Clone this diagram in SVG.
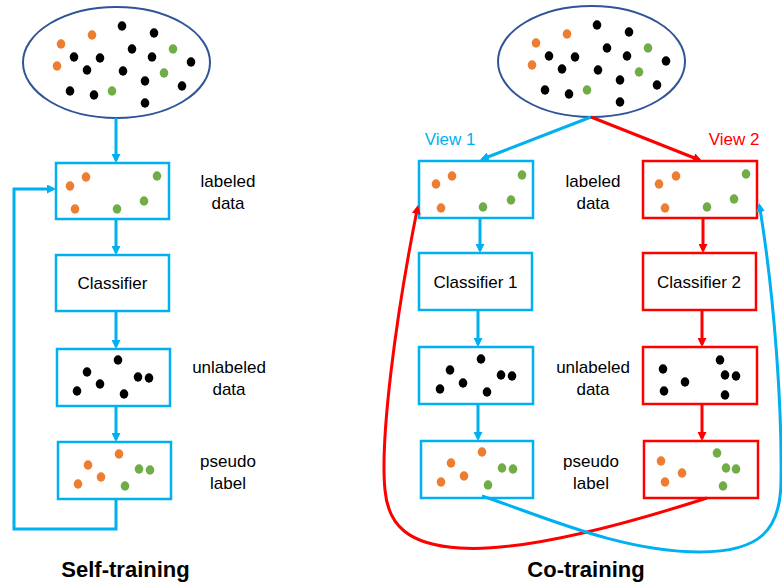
<svg xmlns="http://www.w3.org/2000/svg" width="782" height="583" viewBox="0 0 782 583">
<style>
.bg{fill:#fff}
.ell{fill:#fff;stroke:#2F5597;stroke-width:2}
.bb{fill:#fff;stroke:#00B0F0;stroke-width:2.5}
.rb{fill:#fff;stroke:#FF0000;stroke-width:2.5}
.o{fill:#ED7D31}
.g{fill:#70AD47}
.k{fill:#000}
.t{font-family:"Liberation Sans",Arial,sans-serif;font-size:17px;fill:#000;text-anchor:middle}
.h{font-family:"Liberation Sans",Arial,sans-serif;font-size:22px;font-weight:bold;fill:#000;text-anchor:middle}
.cb{fill:none;stroke:#00B0F0;stroke-width:3}
.cr{fill:none;stroke:#FF0000;stroke-width:3}
</style>
<defs>
<marker id="ab" viewBox="0 0 10 10" refX="7" refY="5" markerWidth="9" markerHeight="9" markerUnits="userSpaceOnUse" orient="auto"><path d="M0,0 L10,5 L0,10 z" fill="#00B0F0"/></marker>
<marker id="ar" viewBox="0 0 10 10" refX="7" refY="5" markerWidth="9" markerHeight="9" markerUnits="userSpaceOnUse" orient="auto"><path d="M0,0 L10,5 L0,10 z" fill="#FF0000"/></marker>
<g id="pool">
<ellipse class="ell" cx="116.5" cy="62.5" rx="93.5" ry="55.5"/>
<ellipse class="o" cx="61" cy="44" rx="4.3" ry="4.7"/>
<ellipse class="o" cx="92" cy="35" rx="4.3" ry="4.7"/>
<ellipse class="o" cx="57" cy="66" rx="4.3" ry="4.7"/>
<ellipse class="k" cx="122" cy="26" rx="4.3" ry="4.7"/>
<ellipse class="k" cx="154" cy="33" rx="4.3" ry="4.7"/>
<ellipse class="k" cx="74" cy="57" rx="4.3" ry="4.7"/>
<ellipse class="k" cx="100" cy="58" rx="4.3" ry="4.7"/>
<ellipse class="k" cx="132" cy="49" rx="4.3" ry="4.7"/>
<ellipse class="k" cx="152" cy="57" rx="4.3" ry="4.7"/>
<ellipse class="k" cx="191" cy="62" rx="4.3" ry="4.7"/>
<ellipse class="k" cx="87" cy="70" rx="4.3" ry="4.7"/>
<ellipse class="k" cx="123" cy="71" rx="4.3" ry="4.7"/>
<ellipse class="k" cx="145" cy="81" rx="4.3" ry="4.7"/>
<ellipse class="k" cx="182" cy="86" rx="4.3" ry="4.7"/>
<ellipse class="k" cx="70" cy="91" rx="4.3" ry="4.7"/>
<ellipse class="k" cx="94" cy="95" rx="4.3" ry="4.7"/>
<ellipse class="k" cx="145" cy="103" rx="4.3" ry="4.7"/>
<ellipse class="g" cx="173" cy="49" rx="4.3" ry="4.7"/>
<ellipse class="g" cx="164" cy="73" rx="4.3" ry="4.7"/>
<ellipse class="g" cx="112" cy="91" rx="4.3" ry="4.7"/>
</g>
</defs>
<rect class="bg" x="0" y="0" width="782" height="583"/>

<!-- Self-training -->
<g id="st-pool"><use href="#pool"/></g>
<g id="st-labeled">
<rect class="bb" x="56" y="163" width="113" height="56"/>
<ellipse class="o" cx="70" cy="186" rx="4.3" ry="4.7"/>
<ellipse class="o" cx="86" cy="177" rx="4.3" ry="4.7"/>
<ellipse class="o" cx="75" cy="209" rx="4.3" ry="4.7"/>
<ellipse class="g" cx="157" cy="176" rx="4.3" ry="4.7"/>
<ellipse class="g" cx="117" cy="209" rx="4.3" ry="4.7"/>
<ellipse class="g" cx="144" cy="201" rx="4.3" ry="4.7"/>
</g>
<g id="st-labeled-text"><text class="t" x="228" y="187">labeled</text><text class="t" x="228" y="209">data</text></g>
<g id="st-classifier">
<rect class="bb" x="56" y="255" width="113" height="56"/>
<text class="t" x="112.5" y="289">Classifier</text>
</g>
<g id="st-unlabeled">
<rect class="bb" x="57" y="349" width="113" height="57"/>
<ellipse class="k" cx="118" cy="360" rx="4.3" ry="4.7"/>
<ellipse class="k" cx="87" cy="372" rx="4.3" ry="4.7"/>
<ellipse class="k" cx="138" cy="377" rx="4.3" ry="4.7"/>
<ellipse class="k" cx="149" cy="378" rx="4.3" ry="4.7"/>
<ellipse class="k" cx="100" cy="384" rx="4.3" ry="4.7"/>
<ellipse class="k" cx="77" cy="391" rx="4.3" ry="4.7"/>
<ellipse class="k" cx="124" cy="394" rx="4.3" ry="4.7"/>
</g>
<g id="st-unlabeled-text"><text class="t" x="229" y="373">unlabeled</text><text class="t" x="229" y="395">data</text></g>
<g id="st-pseudo">
<rect class="bb" x="58" y="442" width="113" height="57"/>
<ellipse class="o" cx="119" cy="454" rx="4.3" ry="4.7"/>
<ellipse class="o" cx="88" cy="465" rx="4.3" ry="4.7"/>
<ellipse class="o" cx="101" cy="477" rx="4.3" ry="4.7"/>
<ellipse class="o" cx="78" cy="484" rx="4.3" ry="4.7"/>
<ellipse class="g" cx="139" cy="469" rx="4.3" ry="4.7"/>
<ellipse class="g" cx="150" cy="470" rx="4.3" ry="4.7"/>
<ellipse class="g" cx="125" cy="486" rx="4.3" ry="4.7"/>
</g>
<g id="st-pseudo-text"><text class="t" x="228" y="467">pseudo</text><text class="t" x="228" y="489">label</text></g>
<g id="st-title"><text class="h" x="125.5" y="577">Self-training</text></g>

<!-- Co-training -->
<g id="ct-pool" transform="translate(475,-1)"><use href="#pool"/></g>
<g id="ct-view1"><text class="t" x="450" y="145" style="fill:#00B0F0">View 1</text></g>
<g id="ct-view2"><text class="t" x="734" y="145" style="fill:#FF0000">View 2</text></g>
<g id="ct-labeled1">
<rect class="bb" x="419" y="161" width="114" height="57"/>
<ellipse class="o" cx="436" cy="184" rx="4.3" ry="4.7"/>
<ellipse class="o" cx="452" cy="176" rx="4.3" ry="4.7"/>
<ellipse class="o" cx="441" cy="208" rx="4.3" ry="4.7"/>
<ellipse class="g" cx="522" cy="175" rx="4.3" ry="4.7"/>
<ellipse class="g" cx="483" cy="207" rx="4.3" ry="4.7"/>
<ellipse class="g" cx="511" cy="200" rx="4.3" ry="4.7"/>
</g>
<g id="ct-labeled2">
<rect class="rb" x="643" y="161" width="114" height="57"/>
<ellipse class="o" cx="659" cy="184" rx="4.3" ry="4.7"/>
<ellipse class="o" cx="676" cy="176" rx="4.3" ry="4.7"/>
<ellipse class="o" cx="665" cy="208" rx="4.3" ry="4.7"/>
<ellipse class="g" cx="746" cy="174" rx="4.3" ry="4.7"/>
<ellipse class="g" cx="707" cy="207" rx="4.3" ry="4.7"/>
<ellipse class="g" cx="734" cy="199" rx="4.3" ry="4.7"/>
</g>
<g id="ct-labeled-text"><text class="t" x="593" y="187">labeled</text><text class="t" x="593" y="209">data</text></g>
<g id="ct-classifier1">
<rect class="bb" x="419" y="253" width="113" height="57"/>
<text class="t" x="475.5" y="288">Classifier 1</text>
</g>
<g id="ct-classifier2">
<rect class="rb" x="643" y="253" width="113" height="57"/>
<text class="t" x="699" y="288">Classifier 2</text>
</g>
<g id="ct-unlabeled1">
<rect class="bb" x="419" y="347" width="114" height="57"/>
<ellipse class="k" cx="481" cy="359" rx="4.3" ry="4.7"/>
<ellipse class="k" cx="450" cy="370" rx="4.3" ry="4.7"/>
<ellipse class="k" cx="501" cy="375" rx="4.3" ry="4.7"/>
<ellipse class="k" cx="512" cy="376" rx="4.3" ry="4.7"/>
<ellipse class="k" cx="463" cy="383" rx="4.3" ry="4.7"/>
<ellipse class="k" cx="440" cy="389" rx="4.3" ry="4.7"/>
<ellipse class="k" cx="487" cy="392" rx="4.3" ry="4.7"/>
</g>
<g id="ct-unlabeled2">
<rect class="rb" x="643" y="347" width="114" height="57"/>
<ellipse class="k" cx="720" cy="360" rx="4.3" ry="4.7"/>
<ellipse class="k" cx="663" cy="369" rx="4.3" ry="4.7"/>
<ellipse class="k" cx="725" cy="375" rx="4.3" ry="4.7"/>
<ellipse class="k" cx="736" cy="376" rx="4.3" ry="4.7"/>
<ellipse class="k" cx="685" cy="382" rx="4.3" ry="4.7"/>
<ellipse class="k" cx="664" cy="391" rx="4.3" ry="4.7"/>
<ellipse class="k" cx="725" cy="395" rx="4.3" ry="4.7"/>
</g>
<g id="ct-unlabeled-text"><text class="t" x="593" y="373">unlabeled</text><text class="t" x="593" y="395">data</text></g>
<g id="ct-pseudo1">
<rect class="bb" x="421" y="441" width="112" height="57"/>
<ellipse class="o" cx="482" cy="452" rx="4.3" ry="4.7"/>
<ellipse class="o" cx="451" cy="463" rx="4.3" ry="4.7"/>
<ellipse class="o" cx="464" cy="476" rx="4.3" ry="4.7"/>
<ellipse class="o" cx="441" cy="482" rx="4.3" ry="4.7"/>
<ellipse class="g" cx="502" cy="468" rx="4.3" ry="4.7"/>
<ellipse class="g" cx="513" cy="469" rx="4.3" ry="4.7"/>
<ellipse class="g" cx="488" cy="485" rx="4.3" ry="4.7"/>
</g>
<g id="ct-pseudo2">
<rect class="rb" x="644" y="441" width="114" height="57"/>
<ellipse class="o" cx="661" cy="461" rx="4.3" ry="4.7"/>
<ellipse class="o" cx="682" cy="473" rx="4.3" ry="4.7"/>
<ellipse class="o" cx="665" cy="482" rx="4.3" ry="4.7"/>
<ellipse class="g" cx="717" cy="453" rx="4.3" ry="4.7"/>
<ellipse class="g" cx="726" cy="468" rx="4.3" ry="4.7"/>
<ellipse class="g" cx="736" cy="469" rx="4.3" ry="4.7"/>
<ellipse class="g" cx="723" cy="486" rx="4.3" ry="4.7"/>
</g>
<g id="ct-pseudo-text"><text class="t" x="591" y="467">pseudo</text><text class="t" x="591" y="489">label</text></g>
<g id="ct-title"><text class="h" x="586" y="577">Co-training</text></g>

<g id="connectors">
<line class="cb" x1="116" y1="118" x2="116" y2="160.3" marker-end="url(#ab)"/>
<line class="cb" x1="116" y1="219" x2="116" y2="252.3" marker-end="url(#ab)"/>
<line class="cb" x1="116" y1="311" x2="116" y2="346.3" marker-end="url(#ab)"/>
<line class="cb" x1="116" y1="406" x2="116" y2="439.3" marker-end="url(#ab)"/>
<path class="cb" d="M116,499 V529 H14 V189 H53.3" marker-end="url(#ab)"/>

<line class="cb" x1="591" y1="117" x2="482.5" y2="159" marker-end="url(#ab)"/>
<line class="cr" x1="591" y1="117" x2="699.5" y2="160" marker-end="url(#ar)"/>
<line class="cb" x1="480" y1="218" x2="480" y2="250.3" marker-end="url(#ab)"/>
<line class="cb" x1="478" y1="310" x2="478" y2="344.3" marker-end="url(#ab)"/>
<line class="cb" x1="478" y1="404" x2="478" y2="438.3" marker-end="url(#ab)"/>
<line class="cr" x1="703" y1="218" x2="703" y2="250.3" marker-end="url(#ar)"/>
<line class="cr" x1="702" y1="310" x2="702" y2="344.3" marker-end="url(#ar)"/>
<line class="cr" x1="702" y1="404" x2="702" y2="438.3" marker-end="url(#ar)"/>
<path class="cr" d="M707,498 C620,526 520,552 460,548 C408,545 388,525 385,490 C380,440 395,320 417.5,207.7" marker-end="url(#ar)"/>
<path class="cb" d="M482,496 C540,515 620,552 700,552 C760,552 781,530 781,480 C782,410 775,300 759.5,205.7" marker-end="url(#ab)"/>
</g>
</svg>
